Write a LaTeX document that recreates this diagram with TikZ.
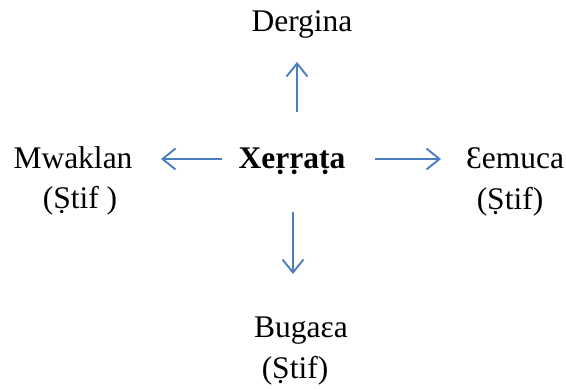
\documentclass[tikz,border=0pt]{standalone}
\usepackage{fontspec}
\setmainfont{Liberation Serif}
\usetikzlibrary{arrows.meta}
\definecolor{arrblue}{HTML}{4A7EBF}

\begin{document}
\begin{tikzpicture}[x=1pt, y=-1pt,
    lbl/.style={anchor=base, inner sep=0pt, font=\fontsize{31.5}{38}\selectfont},
    arr/.style={draw=arrblue, line width=1.9pt, -{Straight Barb[length=13pt, width=21pt, line width=1.9pt]}}]
    \useasboundingbox (0,0) rectangle (566,390);

    \node[lbl, font=\fontsize{31.5}{38}\selectfont\bfseries] (xer) at (292,169) {Xeṛṛaṭa};

    \node[lbl] (derg) at (302,32) {Dergina};

    \node[lbl] (mwak) at (73,169) {Mwaklan};
    \node[lbl] (mwaks) at (80,209) {(Ṣtif )};

    \node[lbl] (emuc) at (515,169) {Ɛemuca};
    \node[lbl] (emucs) at (510,210) {(Ṣtif)};

    \node[lbl] (buga) at (301,338) {Bugaɛa};
    \node[lbl] (bugas) at (295,379) {(Ṣtif)};

    % arrows out from the centre
    \coordinate (upt) at (297,112);
    \coordinate (uph) at (297,62);
    \coordinate (dnt) at (293,212);
    \coordinate (dnh) at (293,274);
    \coordinate (lft) at (222,159);
    \coordinate (lfh) at (161,159);
    \coordinate (rtt) at (375,159);
    \coordinate (rth) at (441,159);

    \draw[arr] (upt) -- (uph);
    \draw[arr] (dnt) -- (dnh);
    \draw[arr] (lft) -- (lfh);
    \draw[arr] (rtt) -- (rth);
\end{tikzpicture}
\end{document}
